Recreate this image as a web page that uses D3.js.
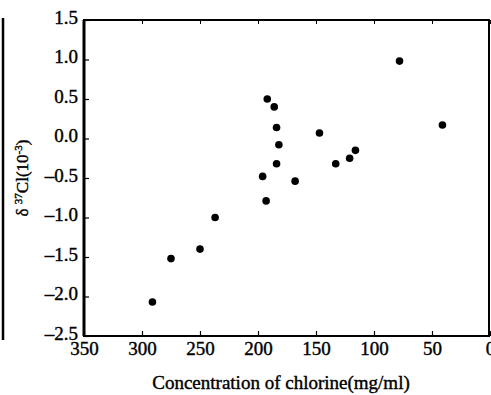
<!DOCTYPE html>
<html>
<head>
<meta charset="utf-8">
<script src="https://cdn.jsdelivr.net/npm/d3@7"></script>
<style>
  body { margin: 0; background: #fff; }
  svg { display: block; }
  svg text { font-family: 'Liberation Serif', 'Times New Roman', Times, serif !important; fill: #000; stroke: #000; stroke-width: 0.4px; }
</style>
</head>
<body>
<div id="chart"></div>
<script>
// chlorine concentration (mg/ml) and delta 37Cl (10^-3)
var concentration = [78, 41, 192, 186, 184, 182, 184, 196, 168, 193, 147, 133, 121, 116, 237, 250, 275, 291];
var delta37Cl = [0.98, 0.17, 0.50, 0.40, 0.14, -0.08, -0.32, -0.48, -0.54, -0.79, 0.07, -0.32, -0.25, -0.15, -1.00, -1.40, -1.52, -2.07];

var xTicks = [350, 300, 250, 200, 150, 100, 50, 0];
var yTicks = [1.5, 1.0, 0.5, 0.0, -0.5, -1.0, -1.5, -2.0, -2.5];

var svgWidth = 491, svgHeight = 395;
var margin = {top: 20, right: 1, bottom: 59, left: 84};

var svg = d3.select('#chart').append('svg')
  .attr('width', svgWidth)
  .attr('height', svgHeight);

var width = svgWidth - margin.left - margin.right;
var height = svgHeight - margin.top - margin.bottom;

var g = svg.append('g')
  .attr('transform', 'translate(' + margin.left + ',' + margin.top + ')');

// x runs backwards, 350 on the left
var x = d3.scaleLinear().domain([350, 0]).range([0, width]);
var y = d3.scaleLinear().domain([-2.5, 1.5]).range([height, 0]);

var fmtY = function(d) { return d3.format('.1f')(d).replace('−', '–'); };

// left axis, ticks pointing in
var yAxis = g.append('g')
  .call(d3.axisLeft(y).tickValues(yTicks).tickSize(-5).tickPadding(6).tickFormat(fmtY));
yAxis.select('.domain').remove();
yAxis.selectAll('.tick line').attr('stroke', '#000').attr('stroke-width', 1.2);
yAxis.selectAll('.tick text').attr('font-size', 19).attr('dy', '0.18em');

// bottom axis
var xAxis = g.append('g')
  .attr('transform', 'translate(0,' + height + ')')
  .call(d3.axisBottom(x).tickValues(xTicks).tickSize(-5).tickPadding(6).tickFormat(d3.format('d')));
xAxis.select('.domain').remove();
xAxis.selectAll('.tick line').attr('stroke', '#000').attr('stroke-width', 1.2);
xAxis.selectAll('.tick text').attr('font-size', 19);

// top ticks
g.append('g')
  .call(d3.axisTop(x).tickValues(xTicks).tickSize(-4).tickFormat(''))
  .call(function(a) { a.select('.domain').remove(); })
  .selectAll('.tick line').attr('stroke', '#000').attr('stroke-width', 1);

// frame
g.append('rect')
  .attr('x', 0)
  .attr('y', 0)
  .attr('width', width - 1)
  .attr('height', height)
  .attr('fill', 'none')
  .attr('stroke', '#000')
  .attr('stroke-width', 2);
g.append('line')
  .attr('x1', 0).attr('x2', 0)
  .attr('y1', 0).attr('y2', height)
  .attr('stroke', '#000')
  .attr('stroke-width', 3);

// points
var data = concentration.map(function(c, i) { return {c: c, d: delta37Cl[i]}; });
g.selectAll('circle')
  .data(data)
  .enter().append('circle')
  .attr('cx', function(d) { return x(d.c); })
  .attr('cy', function(d) { return y(d.d); })
  .attr('r', 3.8)
  .attr('fill', '#000');

// axis titles
g.append('text')
  .attr('x', width / 2 - 6)
  .attr('y', height + 53)
  .attr('text-anchor', 'middle')
  .attr('font-size', 19)
  .text('Concentration of chlorine(mg/ml)');

var yt = g.append('text')
  .attr('transform', 'translate(' + (-56) + ',' + (height * 0.5) + ') rotate(-90)')
  .attr('text-anchor', 'middle')
  .attr('font-size', 17);
yt.append('tspan').text('δ ');
yt.append('tspan').attr('font-size', 11).attr('dy', -6).text('37');
yt.append('tspan').attr('dy', 6).text('Cl(10');
yt.append('tspan').attr('font-size', 11).attr('dy', -6).text('-3');
yt.append('tspan').attr('dy', 6).text(')');

// scan edge of the neighbouring figure
svg.append('line')
  .attr('x1', 3).attr('x2', 3)
  .attr('y1', 18).attr('y2', 340)
  .attr('stroke', '#000')
  .attr('stroke-width', 2.5);
</script>
</body>
</html>
